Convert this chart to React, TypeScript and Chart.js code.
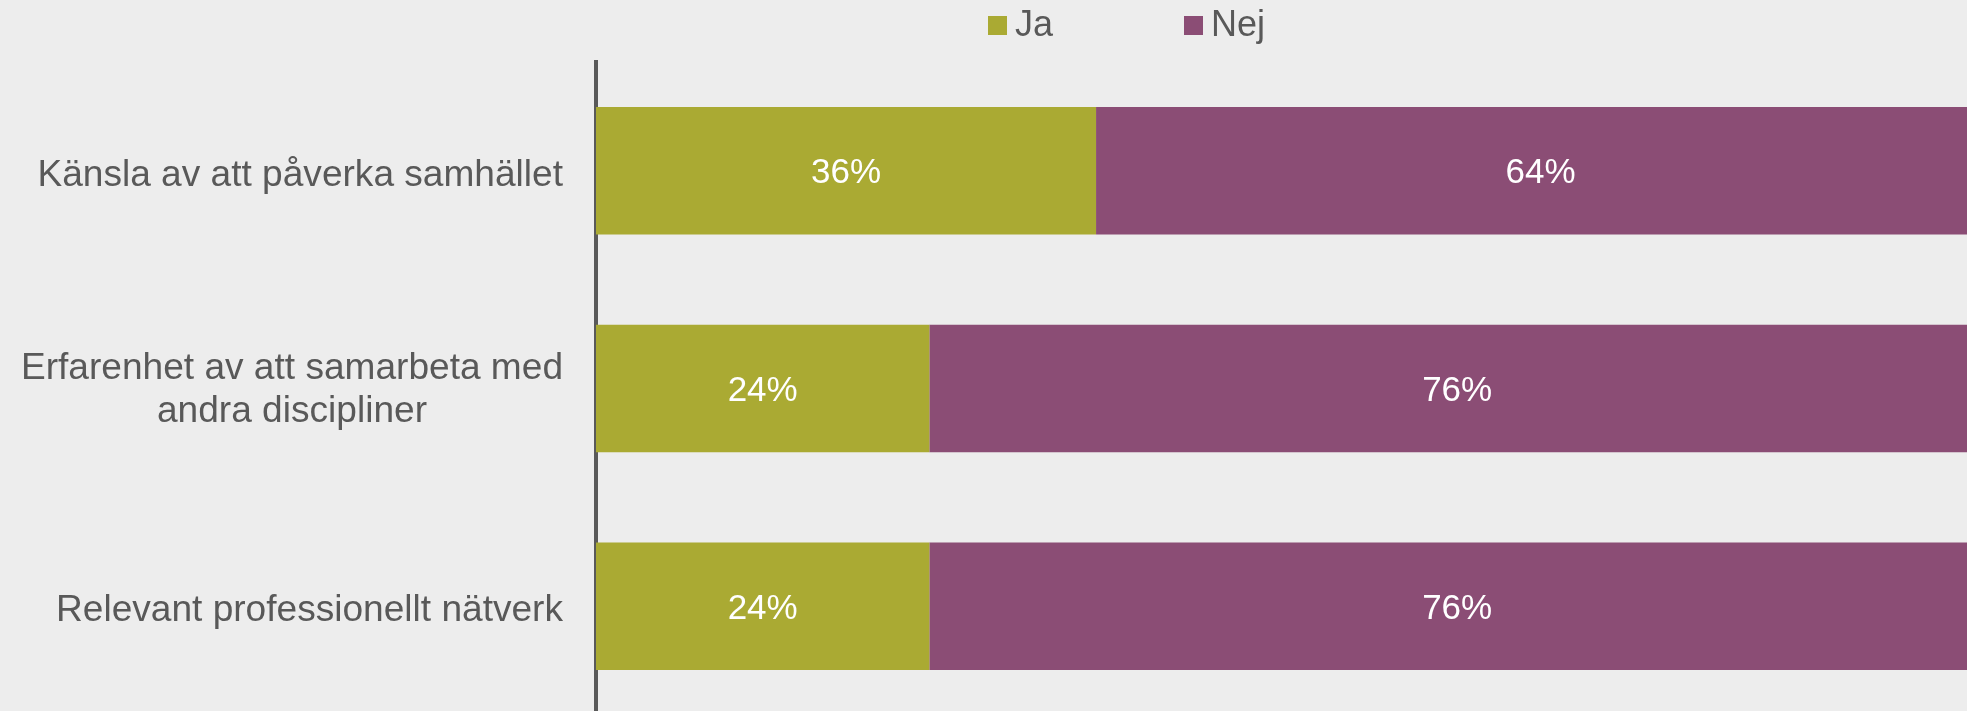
import React, { useEffect, useRef } from "react";
import { Chart, registerables } from "chart.js";

Chart.register(...registerables);

// ---- data ----
const categories: string[][] = [
  ["Känsla av att påverka samhället"],
  ["Erfarenhet av att samarbeta med", "andra discipliner"],
  ["Relevant professionellt nätverk"],
];
const seriesNames = ["Ja", "Nej"];
const jaValues = [36, 24, 24];
const nejValues = [64, 76, 76];
const xMin = 0;
const xMax = 100;

// ---- style ----
const GREEN = "#AAAA33";
const PURPLE = "#8B4D75";
const BG = "#EDEDED";
const TEXT = "#595959";
const FONT = '"Liberation Sans", Arial, sans-serif';
const CANVAS_W = 1990;
const CANVAS_H = 716;

const overlayPlugin = {
  id: "overlay",
  afterDraw(chart: any) {
    const ctx: CanvasRenderingContext2D = chart.ctx;
    const xs = chart.scales.x;
    const ys = chart.scales.y;
    ctx.save();

    // data labels
    ctx.font = `35px ${FONT}`;
    ctx.fillStyle = "#FFFFFF";
    ctx.textAlign = "center";
    ctx.textBaseline = "alphabetic";
    const labels = chart.data.labels as any[];
    labels.forEach((_: any, i: number) => {
      let acc = 0;
      chart.data.datasets.forEach((ds: any) => {
        const v = ds.data[i] as number;
        const cx = xs.getPixelForValue(acc + v / 2);
        const cy = ys.getPixelForValue(i);
        ctx.fillText(`${v}%`, cx, cy + 12.5);
        acc += v;
      });
    });

    // category labels: block right-aligned, lines centred within block
    ctx.font = `37.1px ${FONT}`;
    ctx.fillStyle = TEXT;
    ctx.textAlign = "center";
    const right = 563;
    const lineH = 43;
    const capHalf = 13.3;
    labels.forEach((lab: any, i: number) => {
      const lines: string[] = Array.isArray(lab) ? lab : [lab];
      const w = Math.max(...lines.map((l) => ctx.measureText(l).width));
      const cxl = right - w / 2;
      const cy = ys.getPixelForValue(i);
      const n = lines.length;
      const off = n > 1 ? -1 : 2;
      lines.forEach((l, k) => {
        const by = cy + capHalf + (k - (n - 1) / 2) * lineH + off;
        ctx.fillText(l, cxl, by);
      });
    });

    // legend
    ctx.font = `36px ${FONT}`;
    ctx.textAlign = "left";
    const legendX = [988, 1184];
    chart.data.datasets.forEach((ds: any, i: number) => {
      ctx.fillStyle = ds.backgroundColor;
      ctx.fillRect(legendX[i], 16, 19, 19);
      ctx.fillStyle = TEXT;
      ctx.fillText(ds.label, legendX[i] + 27, 36);
    });

    ctx.restore();
  },
};

export default function App() {
  const ref = useRef<HTMLCanvasElement | null>(null);

  useEffect(() => {
    if (!ref.current) return;
    const chart = new Chart(ref.current, {
      type: "bar",
      data: {
        labels: categories as any,
        datasets: [
          {
            label: seriesNames[0],
            data: jaValues,
            backgroundColor: GREEN,
            borderWidth: 0,
            barPercentage: 0.586,
            categoryPercentage: 1,
          },
          {
            label: seriesNames[1],
            data: nejValues,
            backgroundColor: PURPLE,
            borderWidth: 0,
            barPercentage: 0.586,
            categoryPercentage: 1,
          },
        ],
      },
      options: {
        indexAxis: "y",
        responsive: false,
        animation: false,
        devicePixelRatio: 1,
        layout: {
          padding: { top: 62, right: CANVAS_W - 1985, bottom: CANVAS_H - 715, left: 0 },
        },
        plugins: {
          legend: { display: false },
          tooltip: { enabled: false },
        },
        scales: {
          x: {
            stacked: true,
            min: xMin,
            max: xMax,
            display: false,
          },
          y: {
            stacked: true,
            z: 1,
            grid: { display: false },
            ticks: { display: false },
            border: { display: true, color: TEXT, width: 4 },
            afterFit: (scale: any) => {
              scale.width = 596;
            },
          },
        },
      },
      plugins: [overlayPlugin],
    });
    return () => chart.destroy();
  }, []);

  return (
    <div
      style={{
        position: "fixed",
        left: 0,
        top: 0,
        width: 1967,
        height: 711,
        overflow: "hidden",
        background: BG,
      }}
    >
      <canvas
        ref={ref}
        width={CANVAS_W}
        height={CANVAS_H}
        style={{ display: "block", width: CANVAS_W, height: CANVAS_H }}
      />
    </div>
  );
}
